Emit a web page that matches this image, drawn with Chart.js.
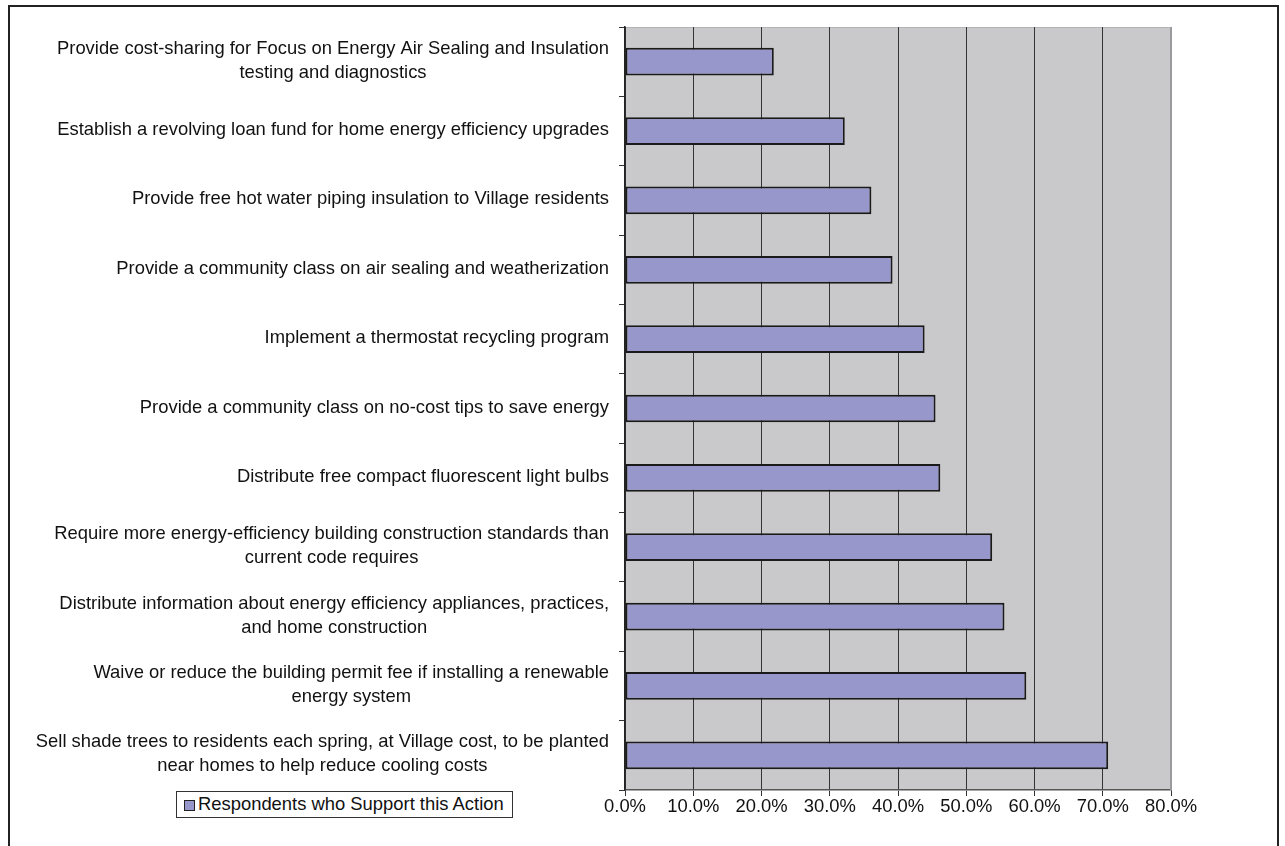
<!DOCTYPE html>
<html>
<head>
<meta charset="utf-8">
<script src="https://cdn.jsdelivr.net/npm/chart.js@4.4.1/dist/chart.umd.min.js"></script>
<style>
  html, body { margin: 0; padding: 0; background: #fff; overflow: hidden; }
  #frame { position: absolute; left: 8px; top: 5px; width: 1267px; height: 900px; border: 2px solid #222; }
  #wrap { position: absolute; left: 0; top: 0; width: 1285px; height: 846px; }
  #legend { position: absolute; left: 176px; top: 791px; width: 335px; height: 25px; border: 1px solid #333;
    font: 18.4px "Liberation Sans", Arial, sans-serif; color: #111; background: #fff; }
  #legend .sw { position: absolute; left: 7px; top: 8px; width: 9px; height: 9px; border: 1px solid #222; }
  #legend .tx { position: absolute; left: 21px; top: 1px; white-space: nowrap; }
</style>
</head>
<body>
<div id="frame"></div>
<div id="wrap"><canvas id="c" width="1285" height="846"></canvas></div>
<div id="legend"></div>
<script>
// categories, top to bottom as in the figure
const categories = [
  ['Provide cost-sharing for Focus on Energy Air Sealing and Insulation', 'testing and diagnostics'],
  ['Establish a revolving loan fund for home energy efficiency upgrades'],
  ['Provide free hot water piping insulation to Village residents'],
  ['Provide a community class on air sealing and weatherization'],
  ['Implement a thermostat recycling program'],
  ['Provide a community class on no-cost tips to save energy'],
  ['Distribute free compact fluorescent light bulbs'],
  ['Require more energy-efficiency building construction standards than', 'current code requires'],
  ['Distribute information about energy efficiency appliances, practices,', 'and home construction'],
  ['Waive or reduce the building permit fee if installing a renewable', 'energy system'],
  ['Sell shade trees to residents each spring, at Village cost, to be planted', 'near homes to help reduce cooling costs']
]
const seriesName = 'Respondents who Support this Action'
const support = [21.8, 32.2, 36.1, 39.2, 43.9, 45.5, 46.2, 53.8, 55.6, 58.8, 70.8]
const xTicks = [0, 10, 20, 30, 40, 50, 60, 70, 80]

const FONT = '"Liberation Sans", Arial, sans-serif'
const FSIZE = 18.4
const BAR = '#9797cb'

// gray plot background and light frame
const plotBg = {
  id: 'plotBg',
  beforeDraw (chart) {
    const { ctx, chartArea: a } = chart
    ctx.save()
    ctx.fillStyle = '#c9c9cb'
    ctx.fillRect(a.left, a.top, a.right - a.left, a.bottom - a.top)
    ctx.strokeStyle = '#b4b4b6'
    ctx.lineWidth = 1
    ctx.beginPath()
    ctx.moveTo(a.left, a.top + 0.5)
    ctx.lineTo(a.right, a.top + 0.5)
    ctx.stroke()
    ctx.restore()
  },
  afterDraw (chart) {
    const { ctx, chartArea: a } = chart
    ctx.save()
    ctx.strokeStyle = '#9a9a9c'
    ctx.lineWidth = 2
    ctx.beginPath()
    ctx.moveTo(a.right, a.top)
    ctx.lineTo(a.right, a.bottom)
    ctx.stroke()
    ctx.restore()
  }
}

// category labels: block right aligned, lines centred inside the block
const catLabels = {
  id: 'catLabels',
  afterDraw (chart) {
    const { ctx } = chart
    const y = chart.scales.y
    const rightEdge = chart.chartArea.left - 16
    const lh = 24
    ctx.save()
    ctx.font = FSIZE + 'px ' + FONT
    ctx.fillStyle = '#111'
    ctx.textAlign = 'center'
    ctx.textBaseline = 'middle'
    chart.data.labels.forEach((lines, i) => {
      const w = Math.max(...lines.map(l => ctx.measureText(l).width))
      const cx = rightEdge - w / 2
      const cy = y.getPixelForTick(i) - 1
      lines.forEach((l, j) => {
        ctx.fillText(l, cx, cy + (j - (lines.length - 1) / 2) * lh)
      })
    })
    ctx.restore()
  }
}

const chart = new Chart(document.getElementById('c'), {
  type: 'bar',
  data: {
    labels: categories,
    datasets: [{
      label: seriesName,
      data: support,
      backgroundColor: BAR,
      borderColor: '#1a1a1a',
      borderWidth: 2,
      borderSkipped: false,
      barPercentage: 0.4,
      categoryPercentage: 1
    }]
  },
  options: {
    indexAxis: 'y',
    responsive: false,
    animation: false,
    devicePixelRatio: 1,
    layout: { padding: { top: 27, right: 114, left: 0, bottom: 0 } },
    plugins: { legend: { display: false }, tooltip: { enabled: false } },
    scales: {
      x: {
        min: 0,
        max: 80,
        afterBuildTicks: s => { s.ticks = xTicks.map(v => ({ value: v })) },
        afterFit: s => { s.height = 56 },
        grid: {
          color: c => (c.tick && c.tick.value === 80 ? '#9a9a9c' : '#333'),
          lineWidth: 1,
          tickLength: 6,
          tickColor: '#333'
        },
        border: { display: true, color: '#555', width: 1.5 },
        ticks: {
          padding: 0,
          color: '#111',
          font: { family: FONT, size: FSIZE },
          callback: v => v.toFixed(1) + '%'
        }
      },
      y: {
        afterFit: s => { s.width = 625 },
        grid: {
          offset: true,
          drawOnChartArea: false,
          tickLength: 6,
          color: '#333'
        },
        border: { display: true, color: '#222', width: 1.5 },
        ticks: { display: false }
      }
    }
  },
  plugins: [plotBg, catLabels]
})

// legend box from the dataset
const ds = chart.data.datasets[0]
document.getElementById('legend').innerHTML =
  '<span class="sw" style="background:' + ds.backgroundColor + '"></span><span class="tx">' + ds.label + '</span>'
</script>
</body>
</html>
